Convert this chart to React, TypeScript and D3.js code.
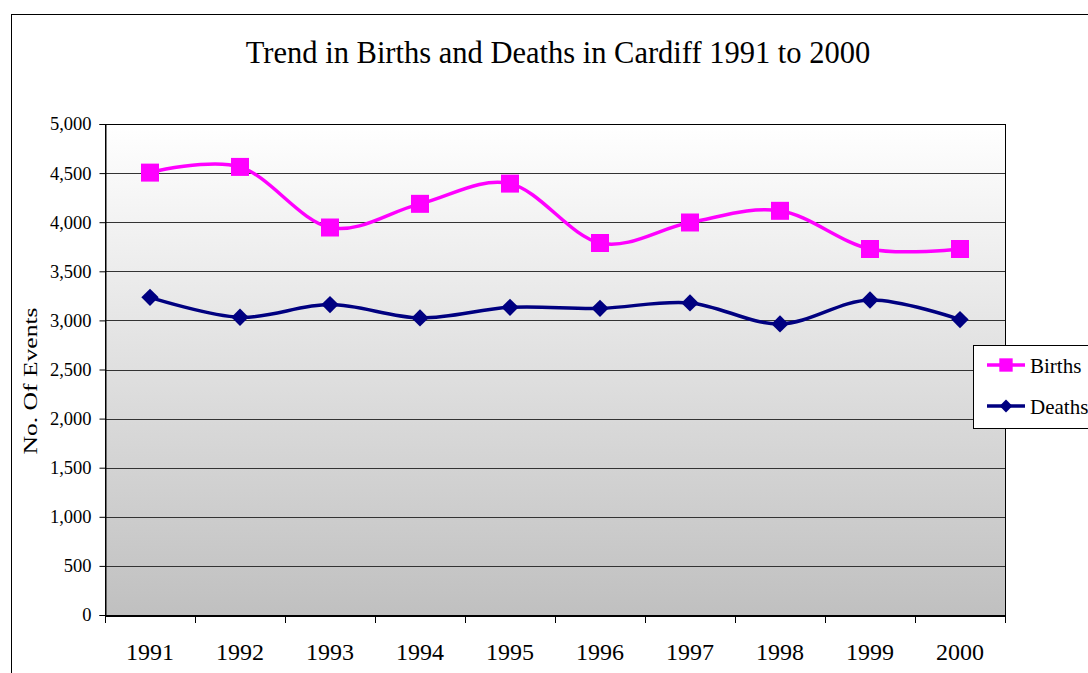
import { useEffect, useRef } from "react";
import * as d3 from "d3";

const years = ["1991", "1992", "1993", "1994", "1995", "1996", "1997", "1998", "1999", "2000"];
const births = [4505, 4563, 3946, 4187, 4393, 3788, 3997, 4116, 3727, 3727];
const deaths = [3235, 3032, 3161, 3025, 3133, 3123, 3178, 2964, 3208, 3008];
const yTicks = [0, 500, 1000, 1500, 2000, 2500, 3000, 3500, 4000, 4500, 5000];

const width = 1088;
const height = 673;
const plot = { left: 105, top: 124, right: 1005, bottom: 615 };
const serif = "'Liberation Serif', 'Times New Roman', serif";

// square turned 45 degrees, as Excel draws its diamond marker
const symbolRhombus = {
  draw(context: d3.Path, size: number) {
    const r = Math.sqrt(size / 2);
    context.moveTo(0, -r);
    context.lineTo(r, 0);
    context.lineTo(0, r);
    context.lineTo(-r, 0);
    context.closePath();
  },
};

const App = () => {
  const svgRef = useRef<SVGSVGElement | null>(null);

  useEffect(() => {
    const svg = d3.select(svgRef.current);
    svg.selectAll("*").remove();

    const x = d3.scaleBand().domain(years).range([plot.left, plot.right]);
    const y = d3.scaleLinear().domain([0, 5000]).range([plot.bottom, plot.top]);
    const cx = (d: string) => (x(d) ?? 0) + x.bandwidth() / 2;

    const defs = svg.append("defs");
    const grad = defs
      .append("linearGradient")
      .attr("id", "bg")
      .attr("x1", 0)
      .attr("y1", 0)
      .attr("x2", 0)
      .attr("y2", 1);
    grad.append("stop").attr("offset", "0%").attr("stop-color", "#ffffff");
    grad.append("stop").attr("offset", "100%").attr("stop-color", "#c0c0c0");

    svg.append("rect").attr("width", width).attr("height", height).attr("fill", "#fff");

    // outer chart frame, runs past the page edge
    svg
      .append("rect")
      .attr("x", 11.5)
      .attr("y", 14.5)
      .attr("width", 1200)
      .attr("height", 800)
      .attr("fill", "none")
      .attr("stroke", "#000")
      .attr("stroke-width", 1);

    svg
      .append("text")
      .attr("x", 558)
      .attr("y", 63)
      .attr("text-anchor", "middle")
      .attr("font-family", serif)
      .attr("font-size", 30.5)
      .text("Trend in Births and Deaths in Cardiff 1991 to 2000");

    svg
      .append("rect")
      .attr("x", plot.left)
      .attr("y", plot.top)
      .attr("width", plot.right - plot.left)
      .attr("height", plot.bottom - plot.top)
      .attr("fill", "url(#bg)");

    // gridlines
    svg
      .append("g")
      .selectAll("line")
      .data(yTicks.slice(1))
      .join("line")
      .attr("x1", plot.left)
      .attr("x2", plot.right)
      .attr("y1", (d) => Math.round(y(d)) + 0.5)
      .attr("y2", (d) => Math.round(y(d)) + 0.5)
      .attr("stroke", "#333")
      .attr("stroke-width", 1);

    svg
      .append("rect")
      .attr("x", plot.left + 0.5)
      .attr("y", plot.top + 0.5)
      .attr("width", plot.right - plot.left)
      .attr("height", plot.bottom - plot.top)
      .attr("fill", "none")
      .attr("stroke", "#000")
      .attr("stroke-width", 1);

    // y axis
    const yAxis = svg
      .append("g")
      .attr("transform", `translate(${plot.left + 0.5},0)`)
      .call(
        d3
          .axisLeft(y)
          .tickValues(yTicks)
          .tickSize(6)
          .tickPadding(8)
          .tickFormat((d) => d3.format(",")(d as number))
      );
    yAxis.select(".domain").attr("stroke", "#000");
    yAxis.selectAll(".tick line").attr("stroke", "#000");
    yAxis
      .selectAll(".tick text")
      .attr("font-family", serif)
      .attr("font-size", 18.5)
      .attr("fill", "#000");

    // x axis
    const xAxis = svg
      .append("g")
      .attr("transform", `translate(0,${plot.bottom + 0.5})`)
      .call(d3.axisBottom(x).tickSize(0).tickPadding(27));
    xAxis.select(".domain").attr("stroke", "#000").attr("stroke-width", 2);
    xAxis
      .selectAll(".tick text")
      .attr("font-family", serif)
      .attr("font-size", 24)
      .attr("fill", "#000");
    svg
      .append("g")
      .selectAll("line")
      .data([...years.map((d) => x(d) ?? 0), plot.right])
      .join("line")
      .attr("x1", (d) => Math.round(d) + 0.5)
      .attr("x2", (d) => Math.round(d) + 0.5)
      .attr("y1", plot.bottom)
      .attr("y2", plot.bottom + 8)
      .attr("stroke", "#000");

    svg
      .append("text")
      .attr("transform", "translate(37,381) rotate(-90)")
      .attr("text-anchor", "middle")
      .attr("font-family", serif)
      .attr("font-size", 19.5)
      .attr("textLength", 147)
      .attr("lengthAdjust", "spacingAndGlyphs")
      .text("No. Of Events");

    const line = d3
      .line<number>()
      .x((_, i) => cx(years[i]))
      .y((d) => y(d))
      .curve(d3.curveCardinal.tension(0));

    const series = [
      { name: "Births", values: births, color: "#ff00ff", symbol: d3.symbolSquare, size: 324 },
      { name: "Deaths", values: deaths, color: "#000080", symbol: symbolRhombus, size: 150 },
    ];

    series.forEach((s) => {
      svg
        .append("path")
        .datum(s.values)
        .attr("d", line)
        .attr("fill", "none")
        .attr("stroke", s.color)
        .attr("stroke-width", 3.5);
      svg
        .append("g")
        .selectAll("path")
        .data(s.values)
        .join("path")
        .attr("transform", (d, i) => `translate(${cx(years[i])},${y(d)})`)
        .attr("d", d3.symbol().type(s.symbol).size(s.size)())
        .attr("fill", s.color);
    });

    // legend
    const legend = svg.append("g");
    legend
      .append("rect")
      .attr("x", 973.5)
      .attr("y", 345.5)
      .attr("width", 140)
      .attr("height", 83)
      .attr("fill", "#fff")
      .attr("stroke", "#000");
    series.forEach((s, i) => {
      const ly = 365 + i * 41;
      legend
        .append("line")
        .attr("x1", 987)
        .attr("x2", 1025)
        .attr("y1", ly)
        .attr("y2", ly)
        .attr("stroke", s.color)
        .attr("stroke-width", 3.5);
      legend
        .append("path")
        .attr("transform", `translate(1006,${ly})`)
        .attr("d", d3.symbol().type(s.symbol).size(s.size * 0.55)())
        .attr("fill", s.color);
      legend
        .append("text")
        .attr("x", 1030)
        .attr("y", ly + 8)
        .attr("font-family", serif)
        .attr("font-size", 21)
        .text(s.name);
    });
  }, []);

  return (
    <svg
      ref={svgRef}
      width={width}
      height={height}
      style={{ position: "absolute", left: 0, top: 0, display: "block" }}
    />
  );
};

export default App;
